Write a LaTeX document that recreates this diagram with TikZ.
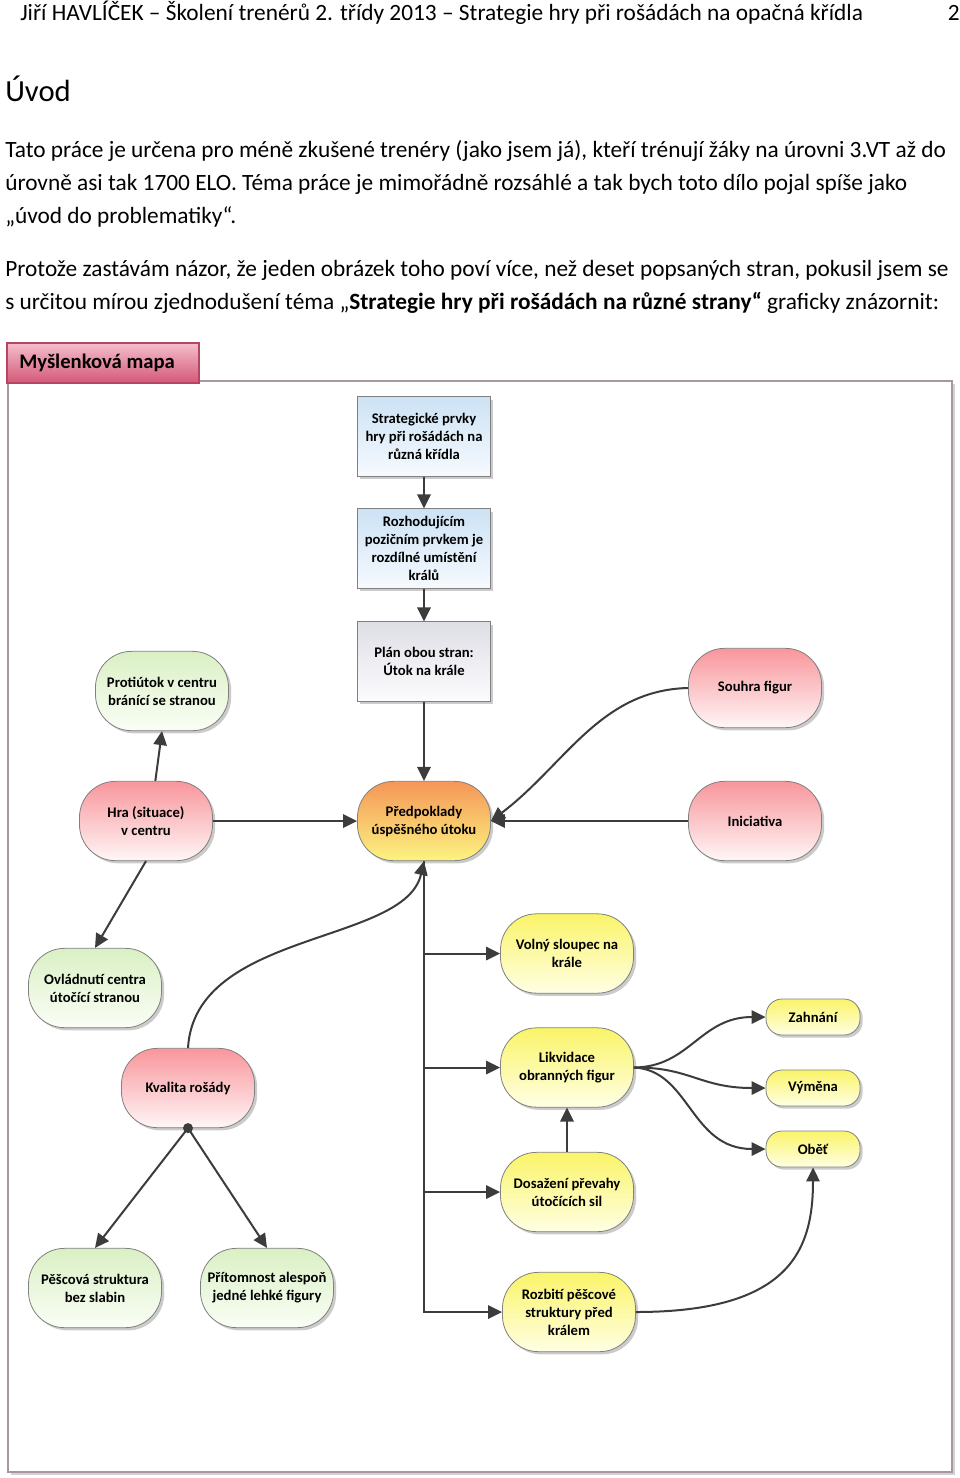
\documentclass[tikz,border=0pt]{standalone}
\usepackage{fontspec}
\setmainfont{Carlito}
\usetikzlibrary{arrows.meta,shadows,calc}
\definecolor{bordergray}{RGB}{128,128,128}
\definecolor{arrowgray}{RGB}{60,60,60}
\definecolor{bluetop}{RGB}{204,226,245}
\definecolor{bluebot}{RGB}{246,250,254}
\definecolor{graytop}{RGB}{222,222,230}
\definecolor{graybot}{RGB}{252,252,254}
\definecolor{greentop}{RGB}{218,240,196}
\definecolor{greenbot}{RGB}{250,254,246}
\definecolor{pinktop}{RGB}{248,150,156}
\definecolor{pinkbot}{RGB}{255,246,246}
\definecolor{orangetop}{RGB}{245,150,88}
\definecolor{orangebot}{RGB}{252,244,128}
\definecolor{yellowtop}{RGB}{250,244,104}
\definecolor{yellowbot}{RGB}{255,255,228}
\definecolor{tabtop}{RGB}{244,190,203}
\definecolor{tabbot}{RGB}{212,88,120}
\definecolor{tabborder}{RGB}{180,70,100}
\definecolor{framecol}{RGB}{170,150,158}
\newcommand\mmfont{\fontsize{11}{13.5}\selectfont\bfseries}
\newcommand\bodyfont{\fontsize{17.5}{24.75}\selectfont}
\tikzset{
  mmbox/.style={draw=bordergray, line width=0.6pt, minimum width=99.75pt, minimum height=59.5pt,
    align=center, font=\mmfont, inner sep=2pt,
    drop shadow={shadow xshift=2pt, shadow yshift=-2pt, fill=black!40}},
  bluebox/.style={mmbox, top color=bluetop, bottom color=bluebot},
  graybox/.style={mmbox, top color=graytop, bottom color=graybot},
  pill/.style={mmbox, rounded corners=27pt},
  greenpill/.style={pill, top color=greentop, bottom color=greenbot},
  pinkpill/.style={pill, top color=pinktop, bottom color=pinkbot},
  orangepill/.style={pill, top color=orangetop, bottom color=orangebot},
  yellowpill/.style={pill, top color=yellowtop, bottom color=yellowbot},
  smallpill/.style={yellowpill, minimum width=70.5pt, minimum height=27pt, rounded corners=12pt},
  arr/.style={draw=arrowgray, line width=1.5pt, -{Triangle[length=10.5pt,width=10pt]}},
  bodytext/.style={anchor=base west, inner sep=0pt, font=\bodyfont}
}
\begin{document}
\begin{tikzpicture}[x=0.75pt,y=-0.75pt]
\useasboundingbox (0,0) rectangle (960,1478);
% header and text
\node[bodytext] (hdr) at (20,20) {Jiří HAVLÍČEK – Školení trenérů 2. třídy 2013 – Strategie hry při rošádách na opačná křídla};
\node[bodytext, anchor=base east] (pg) at (960,20) {2};
\node[anchor=base west, inner sep=0pt, font=\fontsize{23}{28}\selectfont] (uvod) at (5,101) {Úvod};
\node[bodytext] (p1) at (5,157) {Tato práce je určena pro méně zkušené trenéry (jako jsem já), kteří trénují žáky na úrovni 3.VT až do};
\node[bodytext] (p2) at (5,190) {úrovně asi tak 1700 ELO. Téma práce je mimořádně rozsáhlé a tak bych toto dílo pojal spíše jako};
\node[bodytext] (p3) at (5,223) {„úvod do problematiky“.};
\node[bodytext] (q1) at (5,276) {Protože zastávám názor, že jeden obrázek toho poví více, než deset popsaných stran, pokusil jsem se};
\node[bodytext] (q2) at (5,309) {s určitou mírou zjednodušení téma „\textbf{Strategie hry při rošádách na různé strany“} graficky znázornit:};
% frame
\path[draw=framecol, line width=0.8pt, fill=white, drop shadow={shadow xshift=2.5pt, shadow yshift=-2.5pt, fill=black!35}] (8,381) rectangle (952,1472);
\path[draw=tabborder, line width=0.8pt, top color=tabtop, bottom color=tabbot] (7,343) rectangle (199,383);
\node[anchor=west, inner sep=0pt, font=\fontsize{15.5}{18}\selectfont\bfseries] (tab) at (19,363) {Myšlenková mapa};
% nodes
\node[bluebox] (s1) at (424,436.5) {Strategické prvky\\hry při rošádách na\\různá křídla};
\node[bluebox] (s2) at (424,548.5) {Rozhodujícím\\pozičním prvkem je\\rozdílné umístění\\králů};
\node[graybox] (plan) at (424,661.5) {Plán obou stran:\\Útok na krále};
\node[greenpill] (prot) at (162,691) {Protiútok v centru\\bránící se stranou};
\node[pinkpill] (souhra) at (755,688) {Souhra figur};
\node[pinkpill] (hra) at (146,821) {Hra (situace)\\v centru};
\node[orangepill] (pred) at (424,821) {Předpoklady\\úspěšného útoku};
\node[pinkpill] (init) at (755,821) {Iniciativa};
\node[greenpill] (ovl) at (95,988) {Ovládnutí centra\\útočící stranou};
\node[yellowpill] (volny) at (567,953.5) {Volný sloupec na\\krále};
\node[smallpill] (zahn) at (813,1017) {Zahnání};
\node[pinkpill] (kval) at (188,1088) {Kvalita rošády};
\node[yellowpill] (likv) at (567,1067.5) {Likvidace\\obranných figur};
\node[smallpill] (vym) at (813,1088) {Výměna};
\node[smallpill] (obet) at (813,1149) {Oběť};
\node[yellowpill] (dos) at (567,1192) {Dosažení převahy\\útočících sil};
\node[greenpill] (pes) at (95,1288) {Pěšcová struktura\\bez slabin};
\node[greenpill] (prit) at (267,1288) {Přítomnost alespoň\\jedné lehké figury};
\node[yellowpill] (rozb) at (569,1312) {Rozbití pěšcové\\struktury před\\králem};
% connectors
\draw[arr] (s1.south) -- (s2.north);
\draw[arr] (s2.south) -- (plan.north);
\draw[arr] (plan.south) -- (pred.north);
\draw[arr] ([xshift=7pt]hra.north) -- (prot.south);
\draw[arr] (hra.east) -- (pred.west);
\draw[arr] (hra.south) -- (ovl.north);
\draw[arr] (init.west) -- (pred.east);
\draw[arr] (souhra.west) .. controls (600,690) and (565,765) .. (pred.east);
\draw[arr] (kval.north) .. controls (195,930) and (405,945) .. (pred.south);
\draw[arr] (pred.south) |- (volny.west);
\draw[arr] (pred.south) |- (likv.west);
\draw[arr] (pred.south) |- (dos.west);
\draw[arr] (pred.south) |- (rozb.west);
\draw[arr] (likv.east) .. controls (690,1067) and (700,1017) .. (zahn.west);
\draw[arr] (likv.east) .. controls (690,1067) and (700,1088) .. (vym.west);
\draw[arr] (likv.east) .. controls (690,1070) and (690,1149) .. (obet.west);
\draw[arr] (dos.north) -- (likv.south);
\draw[arr] (rozb.east) .. controls (790,1312) and (813,1250) .. (obet.south);
\coordinate (kdot) at (kval.south);
\draw[arr] (kdot) -- (pes.north);
\draw[arr] (kdot) -- (prit.north);
\fill[arrowgray] (kdot) circle (5);
\end{tikzpicture}
\end{document}
